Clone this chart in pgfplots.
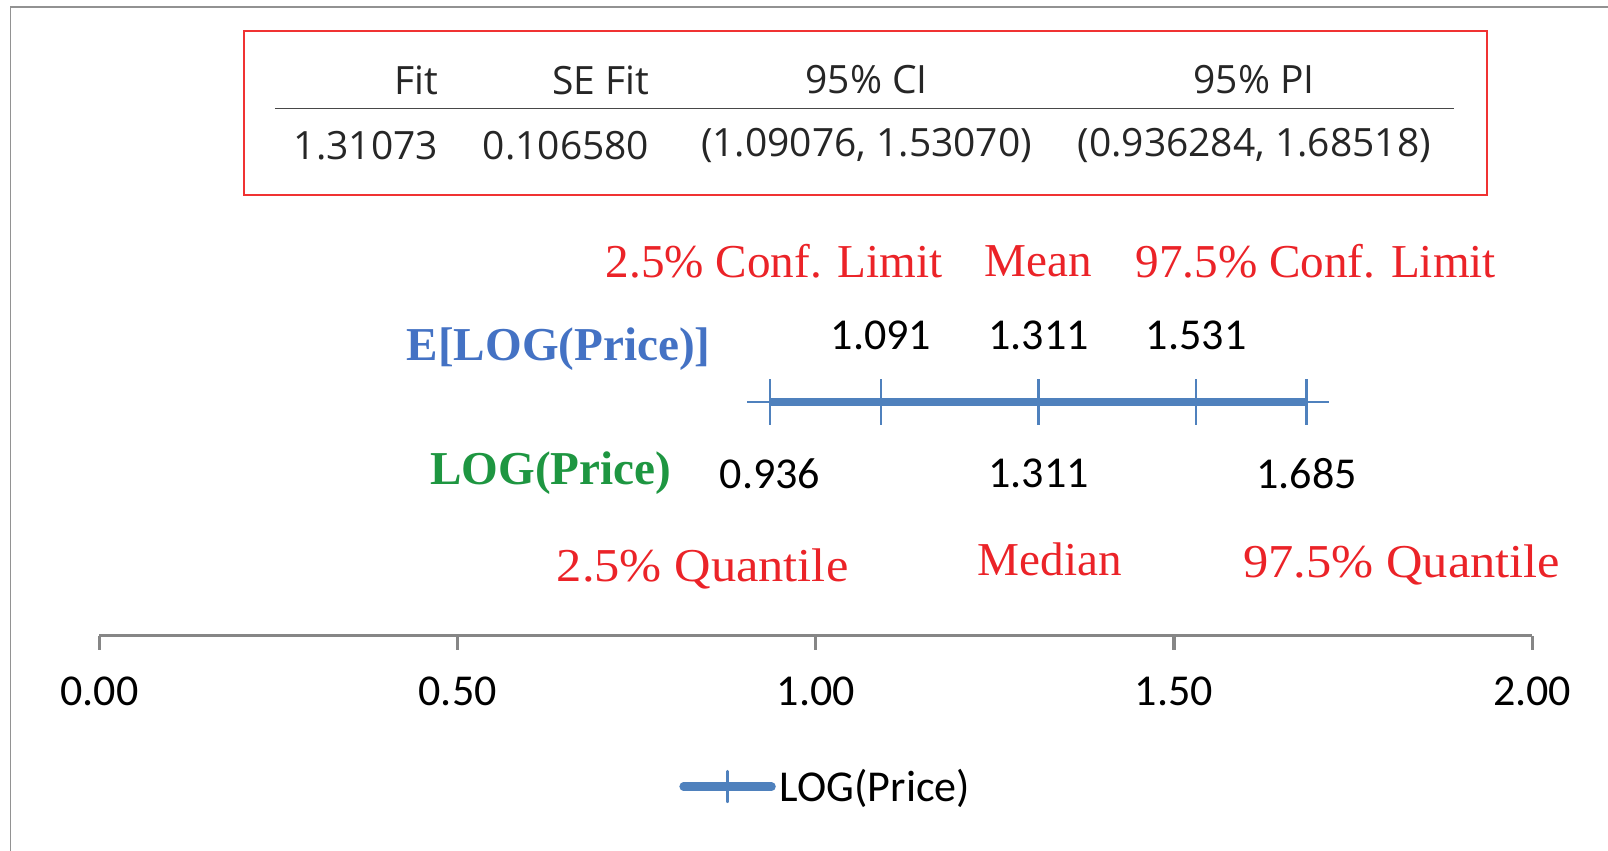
\documentclass[border=0pt]{standalone}
\usepackage{pgfplots}
\pgfplotsset{compat=1.18}
\usepackage{fontspec}
\setmainfont{Carlito}
\newfontfamily\serifface{Liberation Serif}
\newfontfamily\tableface{Open Sans}

\definecolor{barblue}{RGB}{79,129,189}
\definecolor{labred}{RGB}{235,35,40}
\definecolor{labblue}{RGB}{68,114,196}
\definecolor{labgreen}{RGB}{30,150,65}
\definecolor{boxred}{RGB}{240,50,50}
\definecolor{axisgray}{RGB}{134,134,134}
\definecolor{tabtext}{RGB}{38,38,38}

\newcommand\labfont{\serifface\fontsize{23}{27}\selectfont}
\newcommand\numfont{\fontsize{21.5}{25}\selectfont}
\newcommand\tabfont{\tableface\fontsize{19}{22}\selectfont}

\begin{document}
\begin{tikzpicture}
\path[use as bounding box] (-48.5pt,-104.5pt) rectangle (735.5pt,310pt);
\begin{axis}[
  at={(0pt,0pt)}, anchor=south west,
  scale only axis, width=698.5pt, height=307.5pt,
  xmin=0, xmax=2, ymin=0, ymax=615,
  clip=false,
  axis x line*=bottom, axis y line=none,
  x axis line style={axisgray, line width=1.5pt},
  xtick={0,0.5,1,1.5,2},
  xtick style={axisgray, line width=1.5pt},
  major tick length=6.75pt,
  tick align=outside,
  xticklabel style={font=\numfont, text=black, inner sep=0pt, yshift=-13pt},
  /pgf/number format/.cd, fixed, fixed zerofill, precision=2, assume math mode=true,
  /pgfplots/.cd,
  legend style={at={(axis description cs:0.4045,-0.239)}, anchor=west,
    draw=none, fill=none, inner sep=0pt, font=\numfont,
    /tikz/column sep=0pt},
  legend image code/.code={%
    \draw[mark repeat=2,mark phase=2,#1,mark size=7.5pt,line cap=round]
      plot coordinates {(0pt,0pt) (21.5pt,0pt) (43pt,0pt)};},
]
% interval for E[LOG(Price)] and LOG(Price)
\addplot[barblue, line width=4pt, mark=+, mark size=11pt,
  mark options={line width=1.2pt}]
  coordinates {(0.936,228) (1.091,228) (1.311,228) (1.531,228) (1.685,228)};
\addlegendentry{LOG(Price)}

% outer chart frame
\draw[axisgray!90, line width=0.75pt] (axis cs:-0.124,-230) -- (axis cs:-0.124,613) -- (axis cs:2.3,613);

% prediction table
\draw[boxred, line width=1pt] (axis cs:0.2019,590) rectangle (axis cs:1.937,430);
\draw[tabtext!85, line width=0.75pt] (axis cs:0.2448,514) -- (axis cs:1.891,514);
\begin{scope}[every node/.style={font=\tabfont, text=tabtext, inner sep=0pt}]
\node[anchor=east] at (axis cs:0.473,542) {Fit};
\node[anchor=east] at (axis cs:0.768,542) {SE Fit};
\node at (axis cs:1.0709,542) {95\% CI};
\node at (axis cs:1.612,542) {95\% PI};
\node[anchor=east] at (axis cs:0.473,478) {1.31073};
\node[anchor=east] at (axis cs:0.768,478) {0.106580};
\node at (axis cs:1.0709,478) {(1.09076, 1.53070)};
\node at (axis cs:1.612,478) {(0.936284, 1.68518)};
\end{scope}

% interval labels
\begin{scope}[every node/.style={font=\labfont, text=labred}]
\node at (axis cs:0.942,365) {2.5\% Conf. Limit};
\node at (axis cs:1.311,365) {Mean};
\node at (axis cs:1.698,365) {97.5\% Conf. Limit};
\node[xscale=1.07] at (axis cs:0.842,65) {2.5\% Quantile};
\node at (axis cs:1.327,75) {Median};
\node[xscale=1.07] at (axis cs:1.818,69) {97.5\% Quantile};
\end{scope}
\node[font=\labfont\bfseries, text=labblue] at (axis cs:0.641,280) {E[LOG(Price)]};
\node[font=\labfont\bfseries, text=labgreen] at (axis cs:0.630,159) {LOG(Price)};

% values
\begin{scope}[every node/.style={font=\numfont, text=black}]
\node at (axis cs:1.091,293) {1.091};
\node at (axis cs:1.311,293) {1.311};
\node at (axis cs:1.531,293) {1.531};
\node at (axis cs:0.936,158) {0.936};
\node at (axis cs:1.311,158) {1.311};
\node at (axis cs:1.685,158) {1.685};
\end{scope}
\end{axis}
\end{tikzpicture}
\end{document}
